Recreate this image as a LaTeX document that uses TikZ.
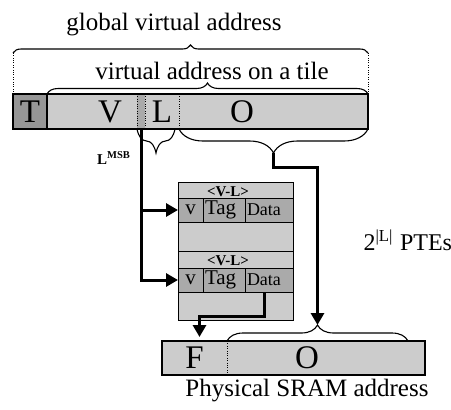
\documentclass[tikz,border=0pt]{standalone}
\usepackage{fontspec}
\setmainfont{Liberation Serif}
\usetikzlibrary{arrows.meta,decorations.pathreplacing}
\definecolor{barlight}{RGB}{204,204,204}
\definecolor{bardark}{RGB}{150,150,150}
\definecolor{rowgray}{RGB}{170,170,170}

\begin{document}
\begin{tikzpicture}[x=1pt, y=-1pt,
  field/.style={fill=barlight, minimum height=35pt, inner sep=0pt, outer sep=0pt, anchor=north west, font=\fontsize{33}{33}\selectfont},
  letter/.style={inner sep=0pt, font=\fontsize{33}{33}\selectfont},
  section/.style={draw, line width=0.8pt, fill=barlight, minimum width=115pt, minimum height=69pt, inner sep=0pt, outer sep=0pt, anchor=north west},
  cell/.style={draw, line width=0.8pt, fill=rowgray, minimum height=24pt, inner ysep=0pt, inner xsep=2pt, outer sep=0pt, text width=#1, align=left, anchor=north west, font=\fontsize{21}{21}\selectfont},
  bus/.style={line width=3pt, -{Triangle[length=12pt,width=13pt]}},
  brc/.style={decorate, decoration={brace, amplitude=#1}, line width=1.1pt},
  big/.style={font=\fontsize{25}{25}\selectfont},
  tag/.style={inner sep=0pt, font=\bfseries\fontsize{15}{15}\selectfont}]
\useasboundingbox (0,0) rectangle (451,410);

% Virtual address
\node[field, fill=bardark, minimum width=34pt] (T) at (13,94) {T};
\node[field, minimum width=90pt] (V) at (47,94) {};
\node[field, fill=rowgray, minimum width=8pt] (S) at (137,94) {};
\node[field, minimum width=34pt] (L) at (145,94) {L};
\node[field, minimum width=189pt] (O) at (179,94) {};
\node[letter] (Vl) at (110,112) {V};
\node[letter] (Ol) at (242,112) {O};
\draw[line width=1.2pt] (T.north west) rectangle (O.south east);
\draw[line width=1.2pt] (T.north east) -- (T.south east);
\draw[dotted] (S.north west) -- (S.south west);
\draw[dotted] (S.north east) -- (S.south east);
\draw[dotted] (O.north west) -- (O.south west);

% Braces above
\draw[dotted] (T.north west) -- ++(0,-41) coordinate (ga);
\draw[dotted] (O.north east) -- ++(0,-41) coordinate (gb);
\draw[brc=8] (ga) -- (gb);
\draw[brc=11] (V.north west) -- (O.north east);
\node[big] (gva) at (174,25) {global virtual address};
\node[big] (vat) at (212,71) {virtual address on a tile};

% Braces below
\draw[brc=24] ([xshift=-4pt]L.south east) -- (S.south west);
\draw[brc=24] (O.south east) -- (O.south west) coordinate[midway, yshift=-24pt] (Otip);
\node[tag, anchor=west] (msb) at (97,158) {L\textsuperscript{MSB}};

% Page table
\node[section] (pte1) at (178,182) {};
\node[section] (pte2) at (178,251) {};
\node[tag] (vl1) at (228,192) {<V-L>};
\node[tag] (vl2) at (228,261) {<V-L>};
\node[cell=21pt, align=center] (v1) at (178,198) {v};
\node[cell=38pt] (tag1) at (v1.north east) {Tag};
\node[cell=44pt, font=\fontsize{18}{18}\selectfont] (data1) at (tag1.north east) {Data};
\node[cell=21pt, align=center] (v2) at (178,268) {v};
\node[cell=38pt] (tag2) at (v2.north east) {Tag};
\node[cell=44pt, font=\fontsize{18}{18}\selectfont] (data2) at (tag2.north east) {Data};
\node[big, anchor=west, font=\fontsize{24}{24}\selectfont] (ptes) at (360,240) {2\textsuperscript{|L|}\hspace{7pt}PTEs};

% Physical address
\node[field, minimum width=65pt, minimum height=34pt] (F) at (162,341) {F};
\node[field, minimum width=198pt, minimum height=34pt] (P) at (227,341) {};
\node[letter] (Pl) at (307,358) {O};
\draw[line width=1.2pt] (F.north west) rectangle (P.south east);
\draw[dotted] (P.north west) -- (P.south west);
\draw[brc=16] (P.north west) -- ([xshift=-17pt]P.north east) coordinate[midway, yshift=16pt] (Ptip);
\node[big] (sram) at (307,391) {Physical SRAM address};

% Edges
\draw[bus] (S.south) |- (v1.west);
\draw[bus] (S.south) |- (v2.west);
\draw[bus] (Otip) -- ++(0,14) -| (Ptip);
\draw[bus, shorten >=4pt] ([xshift=-5pt]data2.south) -- ++(0,24) -| ([xshift=5pt]F.north);
\end{tikzpicture}
\end{document}
